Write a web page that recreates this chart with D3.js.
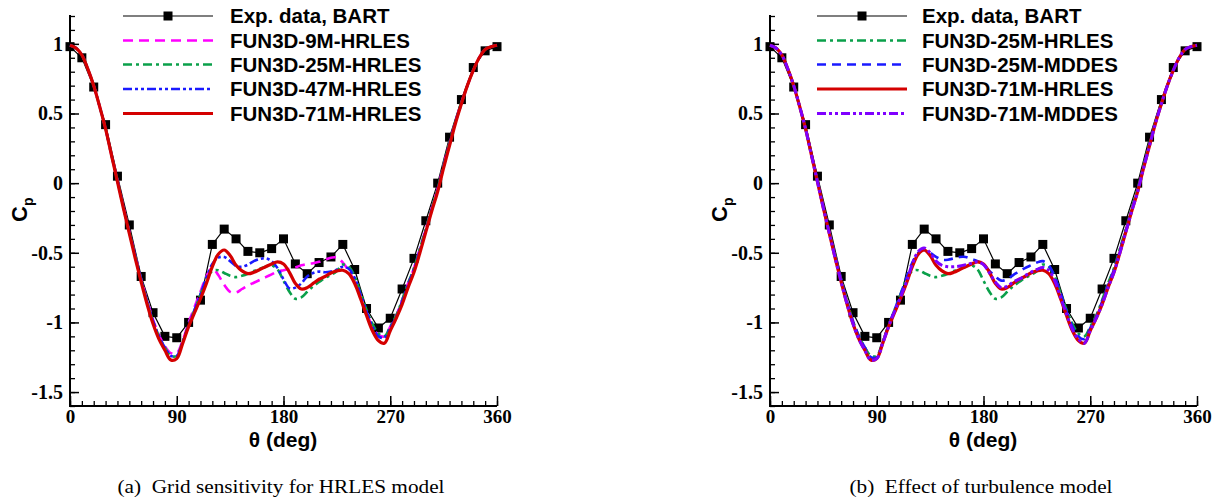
<!DOCTYPE html>
<html><head><meta charset="utf-8">
<script src="https://cdn.jsdelivr.net/npm/d3@7"></script>
<style>
body{margin:0;background:#fff;}
svg{display:block;}
</style></head>
<body>
<svg id="chart" width="1220" height="502"></svg>
<script>
// ---------------- DATA ----------------
const expTheta = [0,10,20,30,40,50,60,70,80,90,100,110,120,130,140,150,160,170,180,190,200,210,220,230,240,250,260,270,280,290,300,310,320,330,340,350,360];
const expCp = [0.98,0.90,0.69,0.42,0.05,-0.30,-0.67,-0.93,-1.10,-1.11,-1.00,-0.84,-0.44,-0.33,-0.40,-0.49,-0.50,-0.47,-0.40,-0.58,-0.65,-0.57,-0.53,-0.44,-0.62,-0.90,-1.04,-0.97,-0.76,-0.54,-0.27,0.00,0.33,0.60,0.83,0.95,0.98];

const cfdTheta = [0,5,10,15,20,25,30,35,40,45,50,55,60,65,70,75,80,85,90,95,100,105,110,115,120,125,130,135,140,145,150,155,160,165,170,175,180,185,190,195,200,205,210,215,220,225,230,235,240,245,250,255,260,265,270,275,280,285,290,295,300,305,310,315,320,325,330,335,340,345,350,355,360];

const cp9M_HRLES = [0.99,0.97,0.92,0.82,0.70,0.55,0.39,0.20,0.02,-0.17,-0.35,-0.52,-0.69,-0.84,-0.98,-1.09,-1.17,-1.22,-1.22,-1.13,-1.00,-0.89,-0.78,-0.67,-0.61,-0.66,-0.73,-0.78,-0.785,-0.76,-0.735,-0.715,-0.695,-0.675,-0.655,-0.635,-0.625,-0.615,-0.605,-0.59,-0.58,-0.575,-0.565,-0.55,-0.535,-0.535,-0.57,-0.63,-0.71,-0.82,-0.93,-1.03,-1.09,-1.10,-1.03,-0.95,-0.84,-0.72,-0.61,-0.47,-0.33,-0.18,-0.04,0.13,0.29,0.44,0.58,0.70,0.81,0.90,0.96,0.98,0.99];

const cp25M_HRLES = [0.99,0.97,0.92,0.82,0.70,0.55,0.39,0.20,0.02,-0.17,-0.35,-0.52,-0.69,-0.85,-0.99,-1.10,-1.18,-1.24,-1.24,-1.14,-1.02,-0.91,-0.80,-0.69,-0.63,-0.625,-0.645,-0.665,-0.675,-0.665,-0.65,-0.63,-0.615,-0.60,-0.59,-0.62,-0.70,-0.78,-0.83,-0.82,-0.78,-0.74,-0.71,-0.68,-0.66,-0.63,-0.585,-0.60,-0.67,-0.79,-0.91,-1.01,-1.08,-1.10,-1.03,-0.95,-0.84,-0.72,-0.61,-0.47,-0.33,-0.18,-0.04,0.13,0.29,0.44,0.58,0.70,0.81,0.90,0.96,0.98,0.99];

const cp47M_HRLES = [0.99,0.97,0.92,0.82,0.70,0.55,0.39,0.20,0.02,-0.17,-0.35,-0.52,-0.69,-0.85,-0.99,-1.10,-1.18,-1.24,-1.24,-1.14,-1.02,-0.91,-0.80,-0.68,-0.58,-0.535,-0.53,-0.56,-0.595,-0.60,-0.585,-0.56,-0.545,-0.54,-0.56,-0.61,-0.69,-0.755,-0.75,-0.72,-0.67,-0.645,-0.635,-0.64,-0.635,-0.62,-0.60,-0.615,-0.68,-0.80,-0.92,-1.03,-1.10,-1.11,-1.04,-0.96,-0.85,-0.73,-0.62,-0.48,-0.34,-0.19,-0.05,0.12,0.28,0.44,0.57,0.70,0.81,0.90,0.96,0.98,0.99];

const cp71M_HRLES = [0.99,0.97,0.92,0.82,0.70,0.55,0.39,0.20,0.01,-0.18,-0.36,-0.54,-0.71,-0.87,-1.01,-1.12,-1.20,-1.27,-1.26,-1.15,-1.03,-0.93,-0.83,-0.72,-0.60,-0.51,-0.48,-0.52,-0.59,-0.63,-0.65,-0.64,-0.62,-0.60,-0.58,-0.565,-0.58,-0.64,-0.72,-0.76,-0.75,-0.72,-0.69,-0.67,-0.645,-0.63,-0.625,-0.65,-0.72,-0.83,-0.95,-1.06,-1.13,-1.15,-1.06,-0.97,-0.87,-0.75,-0.64,-0.50,-0.35,-0.20,-0.06,0.11,0.27,0.43,0.57,0.70,0.81,0.90,0.96,0.98,0.99];

const cp25M_MDDES = [0.99,0.97,0.92,0.82,0.70,0.55,0.39,0.20,0.02,-0.17,-0.35,-0.52,-0.69,-0.85,-0.99,-1.10,-1.18,-1.25,-1.25,-1.14,-1.02,-0.91,-0.80,-0.68,-0.57,-0.50,-0.48,-0.50,-0.53,-0.55,-0.55,-0.54,-0.53,-0.53,-0.545,-0.56,-0.585,-0.63,-0.67,-0.70,-0.69,-0.66,-0.635,-0.61,-0.59,-0.57,-0.56,-0.59,-0.67,-0.79,-0.92,-1.03,-1.10,-1.12,-1.04,-0.96,-0.85,-0.73,-0.62,-0.48,-0.34,-0.19,-0.05,0.12,0.28,0.44,0.57,0.70,0.81,0.90,0.96,0.98,0.99];

const cp71M_MDDES = [0.99,0.97,0.92,0.82,0.70,0.55,0.39,0.20,0.01,-0.18,-0.36,-0.54,-0.71,-0.87,-1.01,-1.12,-1.20,-1.27,-1.26,-1.15,-1.03,-0.92,-0.82,-0.71,-0.58,-0.49,-0.465,-0.50,-0.56,-0.59,-0.60,-0.60,-0.595,-0.585,-0.575,-0.565,-0.585,-0.645,-0.71,-0.75,-0.74,-0.71,-0.69,-0.665,-0.64,-0.62,-0.605,-0.625,-0.70,-0.82,-0.94,-1.05,-1.12,-1.15,-1.06,-0.97,-0.87,-0.75,-0.64,-0.50,-0.35,-0.20,-0.06,0.11,0.27,0.43,0.57,0.70,0.81,0.90,0.96,0.98,0.99];

const xMajorTicks = [0,90,180,270,360];
const yMajorTicks = [-1.5,-1,-0.5,0,0.5,1];
const legendExp = "Exp. data, BART";
const captions = ["(a)  Grid sensitivity for HRLES model", "(b)  Effect of turbulence model"];

// ---------------- STYLES ----------------
const sty = {
  m9:  {label:"FUN3D-9M-HRLES",  color:"#ff00ff", width:2.6, dash:"10,6"},
  g25: {label:"FUN3D-25M-HRLES", color:"#0aa04a", width:2.6, dash:"9,4,3,4"},
  b47: {label:"FUN3D-47M-HRLES", color:"#1a1aff", width:2.6, dash:"9,3,3,3,3,3"},
  r71: {label:"FUN3D-71M-HRLES", color:"#d40000", width:3.2, dash:null},
  b25: {label:"FUN3D-25M-MDDES", color:"#1a1aff", width:2.6, dash:"9,6"},
  p71: {label:"FUN3D-71M-MDDES", color:"#7f00ff", width:3.0, dash:"9,3,3,3,3,3"}
};

const panels = [
  {x0:70, legX:123, legTextX:230, caption:captions[0], capW:327,
   series:[[sty.m9,cp9M_HRLES],[sty.g25,cp25M_HRLES],[sty.b47,cp47M_HRLES],[sty.r71,cp71M_HRLES]]},
  {x0:770, legX:817, legTextX:922, caption:captions[1], capW:263,
   series:[[sty.g25,cp25M_HRLES],[sty.b25,cp25M_MDDES],[sty.r71,cp71M_HRLES],[sty.p71,cp71M_MDDES]]}
];

const svg = d3.select("#chart");
const W = 427, yTop = 16, yBot = 406;
const y = d3.scaleLinear().domain([-1.6,1.2]).range([yBot,yTop]);
const serif = "'Liberation Serif','Times New Roman',serif";
const sans = "'Liberation Sans',Arial,sans-serif";

panels.forEach(p => {
  const x = d3.scaleLinear().domain([0,360]).range([p.x0, p.x0+W]);
  const g = svg.append("g");

  // minor y ticks
  g.append("g").attr("transform",`translate(${p.x0},0)`)
    .call(d3.axisLeft(y).tickValues(d3.range(-16,13).map(v=>v/10)).tickSize(-5).tickFormat(""))
    .call(a=>a.select(".domain").remove())
    .selectAll("line").attr("stroke","#000").attr("stroke-width",1.3);
  // major y ticks
  g.append("g").attr("transform",`translate(${p.x0},0)`)
    .call(d3.axisLeft(y).tickValues(yMajorTicks).tickSize(-9).tickPadding(7).tickFormat(d=>String(d)))
    .call(a=>a.select(".domain").remove())
    .call(a=>a.selectAll("line").attr("stroke","#000").attr("stroke-width",1.5))
    .call(a=>a.selectAll("text").attr("font-family",serif).attr("font-weight","bold").attr("font-size",20).attr("fill","#000"));
  // minor x ticks
  g.append("g").attr("transform",`translate(0,${yBot})`)
    .call(d3.axisBottom(x).tickValues(d3.range(0,361,10)).tickSize(-5).tickFormat(""))
    .call(a=>a.select(".domain").remove())
    .selectAll("line").attr("stroke","#000").attr("stroke-width",1.3);
  g.append("g").attr("transform",`translate(0,${yBot})`)
    .call(d3.axisBottom(x).tickValues(xMajorTicks).tickSize(-10).tickPadding(4).tickFormat(d=>String(d)))
    .call(a=>a.select(".domain").remove())
    .call(a=>a.selectAll("line").attr("stroke","#000").attr("stroke-width",1.5))
    .call(a=>a.selectAll("text").attr("font-family",serif).attr("font-weight","bold").attr("font-size",19).attr("fill","#000"));
  // axis lines
  g.append("path").attr("d",`M${p.x0},${yTop-1}V${yBot}H${p.x0+W}`)
    .attr("fill","none").attr("stroke","#000").attr("stroke-width",2);

  // axis titles
  g.append("text").attr("x",p.x0+213).attr("y",447).attr("text-anchor","middle")
    .attr("font-family",sans).attr("font-weight","bold").attr("font-size",21).text("θ (deg)");
  const cp = g.append("text").attr("transform",`translate(${p.x0-43},222) rotate(-90)`)
    .attr("font-family",sans).attr("font-weight","bold").attr("font-size",22);
  cp.append("tspan").text("C");
  cp.append("tspan").attr("font-size",14).attr("dy",6).text("p");

  // experimental data
  const expPts = expTheta.map((t,i)=>[t,expCp[i]]);
  const lineLin = d3.line().x(d=>x(d[0])).y(d=>y(d[1]));
  g.append("path").attr("d",lineLin(expPts)).attr("fill","none").attr("stroke","#000").attr("stroke-width",1.2);
  g.selectAll("rect.exp").data(expPts).join("rect").attr("class","exp")
    .attr("x",d=>x(d[0])-4.5).attr("y",d=>y(d[1])-4.5).attr("width",9).attr("height",9).attr("fill","#000");

  // CFD curves
  const lineC = d3.line().x(d=>x(d[0])).y(d=>y(d[1])).curve(d3.curveCatmullRom.alpha(0.5));
  p.series.forEach(([s,vals]) => {
    g.append("path").attr("d",lineC(cfdTheta.map((t,i)=>[t,vals[i]])))
      .attr("fill","none").attr("stroke",s.color).attr("stroke-width",s.width)
      .attr("stroke-dasharray",s.dash).attr("stroke-linejoin","round");
  });

  // legend
  const rows = [16,40.5,64.5,89,113.5];
  const lg = g.append("g");
  lg.append("line").attr("x1",p.legX).attr("x2",p.legX+90).attr("y1",rows[0]).attr("y2",rows[0])
    .attr("stroke","#000").attr("stroke-width",1.2);
  lg.append("rect").attr("x",p.legX+45-4.5).attr("y",rows[0]-4.5).attr("width",9).attr("height",9).attr("fill","#000");
  lg.append("text").attr("x",p.legTextX).attr("y",rows[0]+7).attr("font-family",sans).attr("font-weight","bold")
    .attr("font-size",20.5).text(legendExp);
  p.series.forEach(([s],i) => {
    const yy = rows[i+1];
    lg.append("line").attr("x1",p.legX).attr("x2",p.legX+90).attr("y1",yy).attr("y2",yy)
      .attr("stroke",s.color).attr("stroke-width",s.width).attr("stroke-dasharray",s.dash);
    lg.append("text").attr("x",p.legTextX).attr("y",yy+7).attr("font-family",sans).attr("font-weight","bold")
      .attr("font-size",20.5).text(s.label);
  });

  // caption
  g.append("text").attr("x",p.x0+211).attr("y",493).attr("text-anchor","middle")
    .attr("font-family",serif).attr("font-size",19)
    .attr("textLength",p.capW).attr("lengthAdjust","spacingAndGlyphs")
    .style("white-space","pre").text(p.caption);
});
</script>
</body></html>
